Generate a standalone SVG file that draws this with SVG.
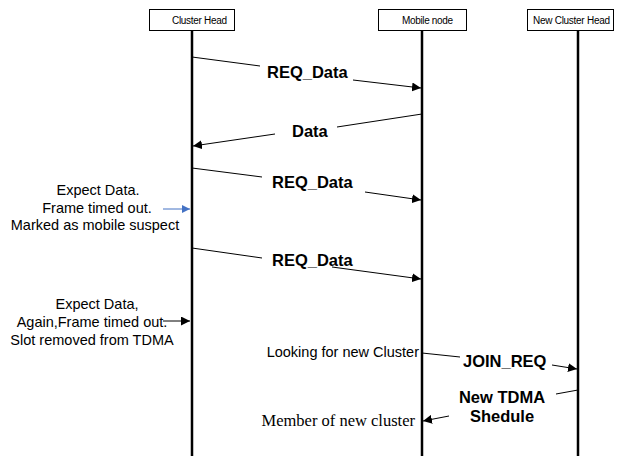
<svg xmlns="http://www.w3.org/2000/svg" width="619" height="456" viewBox="0 0 619 456">
<style>
.box{fill:#fff;stroke:#000;stroke-width:1}
.life{stroke:#000;stroke-width:2.5}
.hd{font-family:"Liberation Sans",Arial,sans-serif;font-size:10px;fill:#000}
.msg{font-family:"Liberation Sans",Arial,sans-serif;font-size:16.5px;font-weight:bold;fill:#000}
.note{font-family:"Liberation Sans",Arial,sans-serif;font-size:14.5px;fill:#000}
.serif{font-family:"Liberation Serif","Times New Roman",serif;font-size:16.5px;fill:#000}
.ln{stroke:#000;stroke-width:1;fill:none}
</style>
<defs>
<marker id="ah" viewBox="0 0 10 10" refX="10" refY="5" markerWidth="9" markerHeight="9" markerUnits="userSpaceOnUse" orient="auto">
<path d="M0,0 L10,5 L0,10 z" fill="#000"/>
</marker>
<marker id="ahb" viewBox="0 0 10 10" refX="10" refY="5" markerWidth="8" markerHeight="8" markerUnits="userSpaceOnUse" orient="auto">
<path d="M0,0 L10,5 L0,10 z" fill="#4472C4"/>
</marker>
</defs>
<g id="cluster-head">
<line class="life" x1="192" y1="30" x2="192" y2="456"/>
<rect class="box" x="149.5" y="9.5" width="85" height="21"/>
<text class="hd" x="172" y="23.5" textLength="55">Cluster Head</text>
</g>
<g id="mobile-node">
<line class="life" x1="422" y1="30" x2="422" y2="456"/>
<rect class="box" x="378.5" y="9.5" width="88" height="21"/>
<text class="hd" x="402" y="23.5" textLength="51">Mobile node</text>
</g>
<g id="new-cluster-head">
<line class="life" x1="578" y1="30" x2="578" y2="456"/>
<rect class="box" x="527.5" y="9.5" width="86" height="21"/>
<text class="hd" x="533" y="23.5" textLength="77">New Cluster Head</text>
</g>
<g id="connectors">
<line class="ln" x1="192" y1="57" x2="260" y2="66"/>
<line class="ln" x1="353" y1="80" x2="421" y2="88" marker-end="url(#ah)"/>
<line class="ln" x1="422" y1="114" x2="337" y2="127"/>
<line class="ln" x1="275" y1="134" x2="193" y2="146" marker-end="url(#ah)"/>
<line class="ln" x1="192" y1="168" x2="262" y2="177"/>
<line class="ln" x1="365" y1="192" x2="421" y2="200" marker-end="url(#ah)"/>
<line class="ln" x1="192" y1="248" x2="262" y2="258"/>
<line class="ln" x1="332" y1="267" x2="421" y2="279" marker-end="url(#ah)"/>
<line x1="163" y1="209" x2="190" y2="209" stroke="#4472C4" stroke-width="1" marker-end="url(#ahb)"/>
<line class="ln" x1="163" y1="321" x2="190" y2="321" marker-end="url(#ah)"/>
<line class="ln" x1="422" y1="353" x2="460" y2="357"/>
<line class="ln" x1="552" y1="365" x2="577" y2="369" marker-end="url(#ah)"/>
<line class="ln" x1="578" y1="390" x2="556" y2="394"/>
<line class="ln" x1="449" y1="416" x2="423" y2="421" marker-end="url(#ah)"/>
</g>
<g id="labels">
<text class="msg" x="267" y="78">REQ_Data</text>
<text class="msg" x="292" y="137">Data</text>
<text class="msg" x="272" y="188">REQ_Data</text>
<text class="msg" x="272" y="266">REQ_Data</text>
<text class="msg" x="463" y="367">JOIN_REQ</text>
<text class="msg" x="502" y="403" text-anchor="middle">New TDMA</text>
<text class="msg" x="502" y="422" text-anchor="middle">Shedule</text>
</g>
<g id="notes">
<text class="note" x="98" y="195" text-anchor="middle">Expect Data.</text>
<text class="note" x="97" y="213" text-anchor="middle">Frame timed out.</text>
<text class="note" x="95" y="230" text-anchor="middle">Marked as mobile suspect</text>
<text class="note" x="97" y="309" text-anchor="middle">Expect Data,</text>
<text class="note" x="92" y="327" text-anchor="middle">Again,Frame timed out.</text>
<text class="note" x="92" y="345" text-anchor="middle">Slot removed from TDMA</text>
<text class="note" x="419" y="357" text-anchor="end">Looking for new Cluster</text>
<text class="serif" x="415" y="426" text-anchor="end">Member of new cluster</text>
</g>
</svg>
